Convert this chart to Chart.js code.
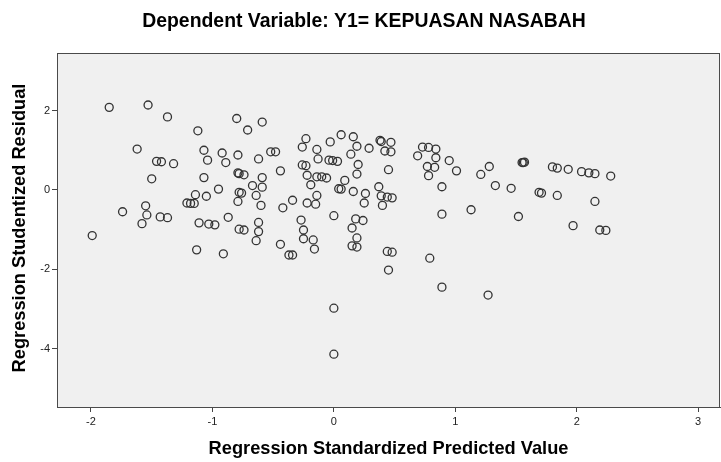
<!DOCTYPE html>
<html>
<head>
<meta charset="utf-8">
<script src="https://cdn.jsdelivr.net/npm/chart.js@4/dist/chart.umd.min.js"></script>
<style>
  html, body { margin: 0; padding: 0; background: #fff; }
  #wrap { width: 721px; height: 462px; }
</style>
</head>
<body>
<div id="wrap"><canvas id="scatter" width="721" height="462"></canvas></div>
<script>
const chartTitle = 'Dependent Variable: Y1= KEPUASAN NASABAH';
const xTitle = 'Regression Standardized Predicted Value';
const yTitle = 'Regression Studentized Residual';

const xTicks = [-2, -1, 0, 1, 2, 3];
const yTicks = [-4, -2, 0, 2];

// standardized predicted value (x) and studentized residual (y), pairwise
const predicted = [
  -1.85, -1.53, -1.37, -1.12, -0.80, -1.62, -1.46, -1.42, -1.32, -1.07,
  -1.04, -0.92, -0.89, -0.79, -1.50, -1.07, -0.95, -0.79, -1.14, -1.05,
  -1.21, -1.18, -1.15, -0.78, -0.79, -1.74, -1.55, -1.54, -1.58, -1.43,
  -1.37, -1.11, -1.03, -0.98, -0.87,
  -1.99, -1.13, -0.91,
  -0.71, -0.59, -0.23, -0.26, -0.14, -0.03, 0.06, 0.16, 0.19, 0.29,
  -0.62, -0.52, -0.48, -0.13, -0.26, -0.23, -0.04, -0.01, 0.03, 0.14,
  0.20, 0.19, -0.78, -0.74, -0.59, -0.44, -0.22, -0.14, -0.10, -0.06,
  0.09, -0.67, -0.59, -0.19, -0.76, -0.64, -0.60, -0.34, -0.42, -0.22,
  -0.15, -0.14, 0.04, 0.06, 0.16, 0.26, 0.25, 0.37,
  -0.78, -0.74, -0.62, -0.62, -0.64, -0.44, -0.37, -0.34, -0.27, -0.25,
  -0.25, -0.17, -0.16, 0.00, 0.18, 0.24, 0.15, 0.19, 0.15, 0.19,
  0.38, 0.39, 0.47, 0.42, 0.47, 0.45, 0.39, 0.44, 0.48, 0.40,
  0.73, 0.78, 0.84, 0.69, 0.84, 0.77, 0.83, 0.95, 1.01, 0.78,
  0.89, 1.28, 1.21, 1.33, 1.46, 1.55, 1.56, 1.57, 1.69, 0.89,
  1.13, 1.52,
  0.44, 0.48, 0.45, 0.79, 0.89, 1.27,
  1.80, 1.84, 1.93, 2.04, 2.10, 2.15, 2.28, 1.71, 1.84, 2.15,
  1.97, 2.19, 2.24,
  0.00, 0.00
];
const residual = [
  2.08, 2.14, 1.84, 1.49, 1.80, 1.03, 0.72, 0.71, 0.66, 1.00,
  0.75, 0.93, 0.69, 0.88, 0.28, 0.31, 0.02, 0.43, -0.12, -0.16,
  -0.33, -0.34, -0.34, -0.06, -0.29, -0.55, -0.40, -0.63, -0.85, -0.68,
  -0.70, -0.83, -0.86, -0.88, -0.69,
  -1.15, -1.51, -1.61,
  1.51, 1.71, 1.29, 1.08, 1.02, 1.21, 1.39, 1.34, 1.10, 1.05,
  0.78, 0.96, 0.96, 0.78, 0.63, 0.61, 0.75, 0.74, 0.72, 0.90,
  0.64, 0.40, 0.41, 0.38, 0.31, 0.48, 0.37, 0.33, 0.33, 0.30,
  0.24, 0.11, 0.07, 0.13, -0.08, -0.14, -0.39, -0.26, -0.45, -0.33,
  -0.36, -0.14, 0.03, 0.02, -0.04, -0.09, -0.33, 0.08,
  -0.99, -1.01, -0.82, -1.05, -1.28, -1.37, -1.64, -1.64, -0.76, -1.01,
  -1.23, -1.26, -1.49, -0.65, -0.73, -0.77, -0.96, -1.21, -1.41, -1.44,
  1.25, 1.22, 1.20, 0.98, 0.96, 0.51, -0.15, -0.18, -0.20, -0.39,
  1.08, 1.07, 1.03, 0.86, 0.81, 0.59, 0.57, 0.74, 0.48, 0.36,
  0.08, 0.59, 0.39, 0.11, 0.04, 0.69, 0.69, 0.70, -0.06, -0.61,
  -0.50, -0.67,
  -1.55, -1.57, -2.02, -1.72, -2.45, -2.65,
  0.58, 0.55, 0.52, 0.46, 0.43, 0.41, 0.35, -0.08, -0.14, -0.29,
  -0.90, -1.01, -1.02,
  -2.98, -4.14
];

const points = predicted.map((x, i) => ({ x, y: residual[i] }));

// narrow-ish bold text, like the SPSS chart font
function drawLabel(ctx, text, x, y, size, squeeze, angle) {
  ctx.save();
  ctx.translate(x, y);
  if (angle) ctx.rotate(angle);
  ctx.scale(squeeze, 1);
  ctx.font = `bold ${size}px "Liberation Sans", Arial, sans-serif`;
  ctx.fillStyle = '#000';
  ctx.textAlign = 'center';
  ctx.textBaseline = 'middle';
  ctx.fillText(text, 0, 0);
  ctx.restore();
}

// — Grey plot panel with a full frame, SPSS style —
const panelPlugin = {
  id: 'panel',
  beforeDatasetsDraw(chart) {
    const { ctx, chartArea: a } = chart;
    ctx.save();
    ctx.fillStyle = '#f0f0f0';
    ctx.fillRect(a.left, a.top, a.right - a.left, a.bottom - a.top);
    ctx.restore();
  },
  afterDraw(chart) {
    const { ctx, chartArea: a } = chart;
    ctx.save();
    ctx.strokeStyle = '#4a4a4a';
    ctx.lineWidth = 1;
    ctx.strokeRect(a.left + 0.5, a.top + 0.5, a.right - a.left - 1, a.bottom - a.top);
    ctx.restore();

    drawLabel(ctx, chartTitle, 364, 21, 20, 0.97, 0);
    drawLabel(ctx, xTitle, (a.left + a.right) / 2, 449, 19, 0.96, 0);
    drawLabel(ctx, yTitle, 20, (a.top + a.bottom) / 2 - 2, 19, 0.96, -Math.PI / 2);
  }
};

const axisFont = { family: '"Liberation Sans", Arial, sans-serif', size: 11 };

new Chart(document.getElementById('scatter'), {
  type: 'scatter',
  data: {
    datasets: [{
      data: points,
      pointStyle: 'circle',
      pointRadius: 4,
      pointHoverRadius: 4,
      borderWidth: 1.3,
      borderColor: '#333333',
      backgroundColor: 'rgba(0,0,0,0)'
    }]
  },
  options: {
    responsive: false,
    animation: false,
    events: [],
    layout: { autoPadding: false, padding: { top: 53, right: 1, left: 0, bottom: 0 } },
    plugins: {
      legend: { display: false },
      title: { display: false },
      tooltip: { enabled: false }
    },
    scales: {
      x: {
        type: 'linear',
        min: -2.28,
        max: 3.18,
        afterBuildTicks: s => { s.ticks = xTicks.map(v => ({ value: v })); },
        afterFit: s => { s.height = 55; s.paddingLeft = 0; s.paddingRight = 0; },
        grid: { drawOnChartArea: false, drawTicks: true, tickLength: 5, color: '#444' },
        border: { display: true, color: '#4a4a4a' },
        ticks: { font: axisFont, color: '#222', padding: 3, maxRotation: 0 }
      },
      y: {
        type: 'linear',
        min: -5.47,
        max: 3.45,
        afterBuildTicks: s => { s.ticks = yTicks.map(v => ({ value: v })); },
        afterFit: s => { s.width = 57; s.paddingTop = 0; s.paddingBottom = 0; },
        grid: { drawOnChartArea: false, drawTicks: true, tickLength: 5, color: '#444' },
        border: { display: true, color: '#4a4a4a' },
        ticks: { font: axisFont, color: '#222', padding: 2 }
      }
    }
  },
  plugins: [panelPlugin]
});
</script>
</body>
</html>
